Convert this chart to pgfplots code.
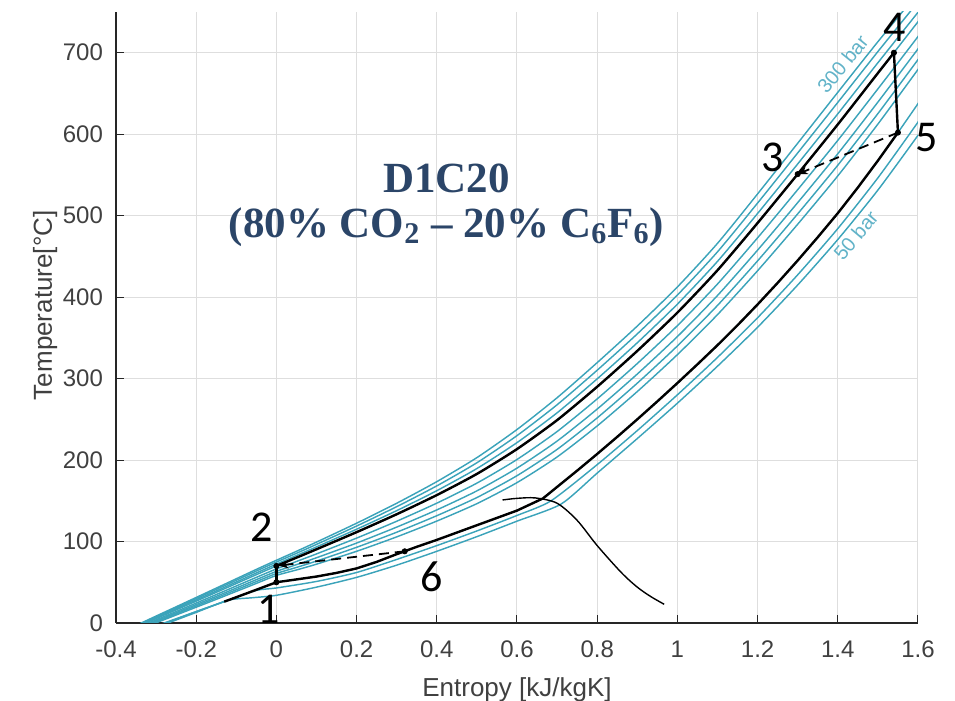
\documentclass[border=0pt]{standalone}
\usepackage{pgfplots}
\pgfplotsset{compat=1.18}
\usepackage{fontspec}
\setmainfont{Liberation Sans}
\newfontfamily\numfont{Carlito}
\newfontfamily\titlefont{Liberation Serif}
\usetikzlibrary{arrows.meta}

\definecolor{iso}{HTML}{3BA3BA}
\definecolor{isolabel}{HTML}{62B3C8}
\definecolor{titleblue}{HTML}{2B4568}
\definecolor{gridgray}{HTML}{DEDEDE}
\definecolor{tickgray}{HTML}{404040}

\begin{document}
\begin{tikzpicture}
\begin{axis}[
  scale only axis, width=401pt, height=305.5pt,
  xmin=-0.4, xmax=1.6, ymin=0, ymax=750,
  axis x line*=bottom, axis y line*=left,
  x axis line style={-}, y axis line style={-},
  axis line style={color=black!85, line width=0.6pt},
  xtick={-0.4,-0.2,0,0.2,0.4,0.6,0.8,1,1.2,1.4,1.6},
  ytick={0,100,200,300,400,500,600,700},
  grid=major, major grid style={gridgray, line width=0.5pt},
  tick align=inside, major tick length=4pt,
  tick style={black!85, line width=0.5pt},
  /pgf/number format/assume math mode=true,
  ticklabel style={font=\fontsize{12}{12}\selectfont, text=tickgray},
  xticklabel style={yshift=-5.5pt},
  yticklabel style={xshift=-3pt},
  xlabel={Entropy [kJ/kgK]},
  ylabel={Temperature[°C]},
  label style={font=\fontsize{13}{13}\selectfont, text=tickgray},
  xlabel style={at={(axis description cs:0.5,-0.1211)}, anchor=base},
  ylabel style={at={(axis description cs:-0.0798,0.52)}, anchor=base},
  clip mode=individual,
]

% isobars, 300 bar (left) to 50 bar (right)
\pgfplotsset{isobar/.style={iso, line width=0.72pt, smooth, tension=0.4}}
\addplot[isobar] coordinates {(-0.35,-3.0)(-0.3,8.5)(-0.25,19.9)(-0.15,42.8)(-0.05,65.8)(0,77)(0.05,88)(0.1,99.3)(0.2,122.5)(0.3,147)(0.4,173.5)(0.5,203)(0.6,237.5)(0.7,276.5)(0.8,319.6)(0.9,364.5)(1.0,412.5)(1.1,466)(1.2,526.7)(1.3,588.9)(1.4,651.4)(1.5,713.5)(1.6,773.4)};
\addplot[isobar] coordinates {(-0.35,-3.75)(-0.3,7.5)(-0.25,18.7)(-0.15,41.2)(-0.05,63.8)(0,74.8)(0.05,85.55)(0.1,96.5)(0.2,119)(0.3,142.8)(0.4,168.3)(0.5,196.7)(0.6,230)(0.7,267.9)(0.8,310.3)(0.9,354.9)(1.0,402.6)(1.1,455.6)(1.2,515.5)(1.3,577)(1.4,639)(1.5,701.4)(1.6,762.3)};
\addplot[isobar] coordinates {(-0.35,-4.6)(-0.3,6.4)(-0.25,17.35)(-0.15,39.3)(-0.05,61.4)(0,72.3)(0.05,82.8)(0.1,93.4)(0.2,115.1)(0.3,137.9)(0.4,162.4)(0.5,189.6)(0.6,221.4)(0.7,258)(0.8,299.7)(0.9,344)(1.0,391.4)(1.1,443.9)(1.2,502.7)(1.3,563.5)(1.4,625)(1.5,687.7)(1.6,749.6)};
\addplot[isobar] coordinates {(-0.35,-5.4)(-0.3,5.4)(-0.25,16.1)(-0.15,37.6)(-0.05,59.3)(0,70)(0.05,80.2)(0.1,90.5)(0.2,111.5)(0.3,133.5)(0.4,157)(0.5,183)(0.6,213.5)(0.7,249)(0.8,290)(0.9,334)(1.0,381)(1.1,433)(1.2,491)(1.3,551)(1.4,612)(1.5,675)(1.6,738)(1.65,770)};
\addplot[isobar] coordinates {(-0.35,-6.6)(-0.3,3.8)(-0.25,14.1)(-0.15,34.9)(-0.05,56)(0,66.4)(0.05,75.5)(0.1,84.8)(0.2,104.2)(0.3,124.9)(0.4,147.1)(0.5,171.7)(0.6,200.7)(0.7,235)(0.8,275.1)(0.9,318.5)(1.0,365)(1.1,416.1)(1.2,472.8)(1.3,531.9)(1.4,592.4)(1.5,655.6)(1.6,719.8)(1.65,752.4)};
\addplot[isobar] coordinates {(-0.35,-7.7)(-0.3,2.5)(-0.25,12.5)(-0.15,32.7)(-0.05,53.2)(0,63.4)(0.05,71.6)(0.1,80.1)(0.2,98.1)(0.3,117.7)(0.4,138.8)(0.5,162.2)(0.6,190.1)(0.7,223.3)(0.8,262.6)(0.9,305.6)(1.0,351.6)(1.1,402)(1.2,457.7)(1.3,516)(1.4,576)(1.5,639.4)(1.6,704.7)(1.65,737.7)};
\addplot[isobar] coordinates {(-0.35,-8.6)(-0.3,1.3)(-0.25,11.1)(-0.15,30.8)(-0.05,50.8)(0,60.8)(0.05,68.2)(0.1,76)(0.2,92.9)(0.3,111.4)(0.4,131.7)(0.5,154)(0.6,180.8)(0.7,213.1)(0.8,251.8)(0.9,294.4)(1.0,340.1)(1.1,389.8)(1.2,444.5)(1.3,502.2)(1.4,561.9)(1.5,625.3)(1.6,691.5)(1.65,724.9)};
\addplot[isobar] coordinates {(-0.35,-9.4)(-0.3,0.2)(-0.25,9.8)(-0.15,29)(-0.05,48.6)(0,58.4)(0.05,65.1)(0.1,72.2)(0.2,88)(0.3,105.7)(0.4,125.1)(0.5,146.5)(0.6,172.3)(0.7,203.8)(0.8,241.9)(0.9,284.1)(1.0,329.4)(1.1,378.5)(1.2,432.4)(1.3,489.5)(1.4,548.8)(1.5,612.4)(1.6,679.4)(1.65,713.2)};
\addplot[isobar] coordinates {(-0.35,-12.3)(-0.28,0)(-0.2,14)(-0.12,28)(-0.05,40.8)(0,50)(0.05,53.5)(0.1,57)(0.15,61.5)(0.2,67)(0.25,75)(0.3,84.5)(0.35,93.5)(0.4,102)(0.45,111)(0.5,120)(0.55,129)(0.6,138)(0.665,153)(0.7,167)(0.75,187)(0.8,207.5)(0.85,228.5)(0.9,250)(0.95,272)(1.0,294.5)(1.05,317.5)(1.1,341)(1.15,365.5)(1.2,391)(1.25,417.5)(1.3,445)(1.35,473.5)(1.4,503)(1.45,534.5)(1.5,567.5)(1.55,602)(1.6,637.5)(1.65,674)};
\addplot[isobar] coordinates {(-0.33,-10)(-0.275,0)(-0.2,14)(-0.12,28)(-0.05,40)(0,43)(0.1,51)(0.2,62)(0.3,78)(0.4,95)(0.5,113)(0.6,132)(0.685,150)(0.8,194.4)(0.9,236.2)(1.0,280.1)(1.1,326)(1.2,374.7)(1.3,427.4)(1.4,484.1)(1.5,546.4)(1.6,614.8)(1.65,650.6)};
\addplot[isobar] coordinates {(-0.33,-11)(-0.27,0)(-0.2,13)(-0.12,28)(-0.06,31)(0,34)(0.1,44)(0.2,56)(0.3,71)(0.4,88)(0.5,106)(0.6,125)(0.71,146)(0.8,184)(0.9,226.4)(1.0,269.8)(1.1,315.2)(1.2,363)(1.3,414.9)(1.4,470.7)(1.5,531.4)(1.6,598.6)(1.65,634)};

% dew line
\addplot[black, line width=0.7pt, smooth, tension=0.5] coordinates {(0.564,151)(0.6,153)(0.646,153.5)(0.7,147)(0.75,126)(0.8,95)(0.86,62)(0.9,44)(0.935,32)(0.967,23)};

% cycle: high pressure 2-3-4
\addplot[black, line width=1.2pt, smooth, tension=0.4] coordinates {(0,70)(0.05,80.2)(0.1,90.5)(0.2,111.5)(0.3,133.5)(0.4,157)(0.5,183)(0.6,213.5)(0.7,249)(0.8,290)(0.9,334)(1.0,381)(1.1,433)(1.2,491)(1.3,551)(1.4,612)(1.5,675)(1.54,700)};
% cycle: low pressure 5-6-1
\addplot[black, line width=1.2pt] coordinates {(-0.13,26.2)(-0.12,28)(-0.05,40.8)(0,50)(0.05,53.5)(0.1,57)(0.15,61.5)(0.2,67)(0.25,75)(0.3,84.5)(0.35,93.5)(0.4,102)(0.45,111)(0.5,120)(0.55,129)(0.6,138)(0.665,153)(0.7,167)(0.75,187)(0.8,207.5)(0.85,228.5)(0.9,250)(0.95,272)(1.0,294.5)(1.05,317.5)(1.1,341)(1.15,365.5)(1.2,391)(1.25,417.5)(1.3,445)(1.35,473.5)(1.4,503)(1.45,534.5)(1.5,567.5)(1.55,602)};
% pump 1-2 and turbine 4-5
\addplot[black, line width=1.2pt] coordinates {(0,50)(0,70)};
\addplot[black, line width=1.2pt] coordinates {(1.54,700)(1.55,602)};
% recuperator
\addplot[black, line width=0.9pt, dash pattern=on 5pt off 3pt, -{Stealth[length=5pt,width=4pt]}] coordinates {(1.55,602)(1.30,551)};
\addplot[black, line width=0.9pt, dash pattern=on 5pt off 3pt, -{Stealth[length=5pt,width=4pt]}] coordinates {(0.32,88)(0.005,70.5)};
% state points
\addplot[only marks, mark=*, mark size=1.3pt, black] coordinates {(0,50)(0,70)(1.30,551)(1.54,700)(1.55,602)(0.32,88)};

\node[font=\numfont\fontsize{22}{22}\selectfont] at (axis cs:-0.02,17) {1};
\node[font=\numfont\fontsize{22}{22}\selectfont] at (axis cs:-0.037,118) {2};
\node[font=\numfont\fontsize{22}{22}\selectfont] at (axis cs:1.237,571) {3};
\node[font=\numfont\fontsize{22}{22}\selectfont] at (axis cs:1.541,731) {4};
\node[font=\numfont\fontsize{22}{22}\selectfont] at (axis cs:1.621,596) {5};
\node[font=\numfont\fontsize{22}{22}\selectfont] at (axis cs:0.387,56.5) {6};

\node[rotate=51, text=isolabel, font=\fontsize{10}{10}\selectfont] at (axis cs:1.412,686) {300 bar};
\node[rotate=50, text=isolabel, font=\fontsize{10}{10}\selectfont] at (axis cs:1.445,476) {50 bar};

\node[font=\titlefont\bfseries\fontsize{21.5}{22.5}\selectfont, text=titleblue, align=center] at (axis cs:0.424,513) {D1C20\\(80\% CO\textsubscript{2} – 20\% C\textsubscript{6}F\textsubscript{6})};
\end{axis}
\pgfresetboundingbox
\path[use as bounding box] (-58pt,-39pt) rectangle (419.5pt,311.5pt);
\end{tikzpicture}
\end{document}
